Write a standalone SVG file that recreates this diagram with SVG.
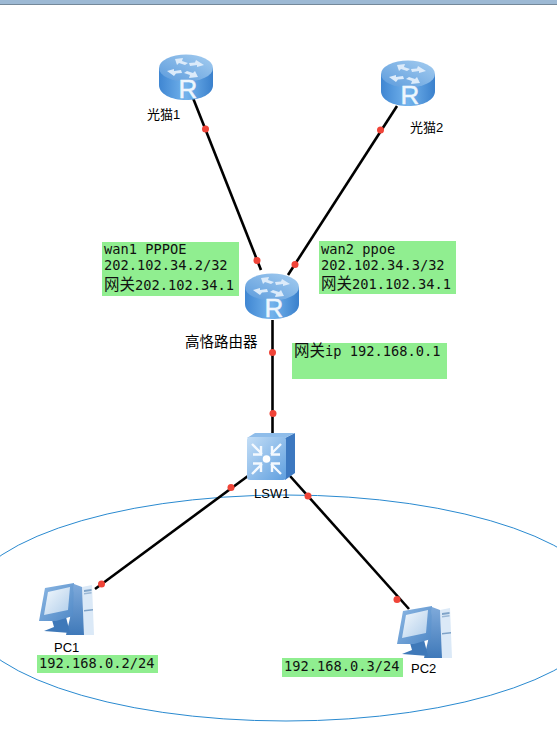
<svg xmlns="http://www.w3.org/2000/svg" width="557" height="748" viewBox="0 0 557 748">
<style>
.lnk{stroke:#000;stroke-width:2.600;fill:none}
.dot{fill:#f04438}
.box{fill:#90ee90}
.mono{font-family:"DejaVu Sans Mono","Liberation Mono","Noto Sans CJK SC",monospace;font-size:13.7px;fill:#111}
.cjk{font-family:"Noto Sans CJK SC",sans-serif;font-size:15.500px}
.lbl{font-family:"Liberation Sans","Noto Sans CJK SC",sans-serif;font-size:13px;fill:#000}
.rt{font-family:"Liberation Sans",sans-serif;font-size:26px;fill:#eef6fd;stroke:#eef6fd;stroke-width:.5;text-anchor:middle}
.ar{fill:none;stroke:#f4f9fe;stroke-width:2.400}
</style>
<defs>
<linearGradient id="rb" x1="0" x2="1" y1="0" y2="0"><stop offset="0" stop-color="#3f86d2"/><stop offset=".5" stop-color="#73b3ec"/><stop offset="1" stop-color="#3a80cc"/></linearGradient>
<linearGradient id="rt" x1="0" x2="1" y1="1" y2="0"><stop offset="0" stop-color="#5c9bdc"/><stop offset="1" stop-color="#a5cdf0"/></linearGradient>
<linearGradient id="sw" x1="0" x2="1" y1="0" y2="1"><stop offset="0" stop-color="#c4def6"/><stop offset="1" stop-color="#5f9fdf"/></linearGradient>
<linearGradient id="pcm" x1="0" x2="1" y1="0" y2="1"><stop offset="0" stop-color="#8db8e4"/><stop offset="1" stop-color="#4f88c6"/></linearGradient>
<linearGradient id="pcs" x1="0" x2="1" y1="0" y2="1"><stop offset="0" stop-color="#f4f9fd"/><stop offset="1" stop-color="#b0cdea"/></linearGradient>
<linearGradient id="pcb" x1="0" x2="0" y1="0" y2="1"><stop offset="0" stop-color="#7faadb"/><stop offset="1" stop-color="#3f79b9"/></linearGradient>
<g id="router">
<path d="M0,14V31C0,40 12,46 27,46S54,40 54,31V14Z" fill="url(#rb)"/>
<ellipse cx="27" cy="14" rx="27" ry="13.5" fill="url(#rt)"/>
<g fill="#dcebfa">
<polygon points="16,5 24,4 23,7 29,9 26,11 20,9 18,11"/>
<polygon points="37,6 45,11 38,13 38,11 31,12 30,9 36,8.500"/>
<polygon points="39,23 30,24 31,21 25,19 28,17 34,19 36,17"/>
<polygon points="15,22 8,17 15,15 15,17 22,16 23,19 17,19.500"/>
</g>
<text class="rt" x="29" y="44">R</text>
</g>
<g id="pc">
<polygon points="44,7 54,5 56,55 46,55" fill="#dbe9f7"/>
<polygon points="36,4 44,7 46,55 28,55 32,38" fill="url(#pcb)"/>
<polygon points="46,10 53.500,9 53.500,11 46,12" fill="#7fa3c8"/>
<polygon points="46,13 53.500,12 53.500,13.500 46,14.500" fill="#9ab8d6"/>
<polygon points="46,30 55,29 55,30.500 46,31.500" fill="#7fa3c8"/>
<polygon points="14,40 28,37 32,53 6,51 16,47" fill="#3f79b9"/>
<polygon points="7,8 36,3 35,36 18,41 1,41" fill="url(#pcm)"/>
<polygon points="10,12 32,7 30,30 6,35" fill="url(#pcs)"/>
</g>
</defs>
<rect width="557" height="748" fill="#fff"/>
<rect width="557" height="4" fill="#9db9d4"/>
<rect y="4" width="557" height="1" fill="#74889a"/>
<ellipse cx="286" cy="608" rx="322" ry="113" fill="none" stroke="#2a8ad0" stroke-width="1"/>
<g id="connectors">
<line class="lnk" x1="193" y1="98" x2="261" y2="270"/>
<line class="lnk" x1="397" y1="106" x2="288" y2="275"/>
<line class="lnk" x1="272.500" y1="320" x2="272.500" y2="433"/>
<line class="lnk" x1="252" y1="473" x2="95" y2="589"/>
<line class="lnk" x1="290" y1="476" x2="409" y2="609"/>
<circle class="dot" cx="205.500" cy="129" r="3.500"/>
<circle class="dot" cx="257" cy="260.500" r="3.500"/>
<circle class="dot" cx="380.500" cy="130" r="3.500"/>
<circle class="dot" cx="295" cy="264.500" r="3.500"/>
<circle class="dot" cx="272.500" cy="352.500" r="3.500"/>
<circle class="dot" cx="273" cy="413.500" r="3.500"/>
<circle class="dot" cx="231" cy="487.500" r="3.500"/>
<circle class="dot" cx="101.500" cy="584" r="3.500"/>
<circle class="dot" cx="308" cy="496" r="3.500"/>
<circle class="dot" cx="397" cy="599.500" r="3.500"/>
</g>
<g id="r1"><use href="#router" x="159" y="54"/><text class="lbl" x="147" y="119">光猫1</text></g>
<g id="r2"><use href="#router" x="381" y="60"/><text class="lbl" x="410" y="132">光猫2</text></g>
<g id="r3">
<rect class="box" x="102" y="242" width="137" height="54"/>
<text class="mono" x="104" y="254">wan1 PPPOE</text>
<text class="mono" x="104" y="270">202.102.34.2/32</text>
<text class="mono" x="104" y="290"><tspan class="cjk">网关</tspan>202.102.34.1</text>
<rect class="box" x="319" y="241" width="137" height="53"/>
<text class="mono" x="321" y="254">wan2 ppoe</text>
<text class="mono" x="321" y="270">202.102.34.3/32</text>
<text class="mono" x="321" y="289"><tspan class="cjk">网关</tspan>201.102.34.1</text>
<rect class="box" x="292" y="343" width="155" height="36"/>
<text class="mono" x="294" y="356"><tspan class="cjk">网关</tspan>ip 192.168.0.1</text>
<use href="#router" x="245" y="273"/>
<text class="lbl" x="185" y="347" style="font-size:14.500px">高恪路由器</text>
</g>
<g id="lsw1">
<polygon points="285,438 295,433 295,473 285,480" fill="#3c78c0"/>
<polygon points="247,438 255,433 295,433 285,438" fill="#8fbdea"/>
<rect x="247" y="437" width="39" height="43" rx="3" fill="url(#sw)"/>
<circle cx="266.500" cy="459" r="3.800" fill="#fff"/>
<path class="ar" d="M252,444L262,454M261,446V454.500H253"/>
<path class="ar" d="M281,444L271,454M272,446V454.500H280"/>
<path class="ar" d="M252,474L262,464M261,472V463.500H253"/>
<path class="ar" d="M281,474L271,464M272,472V463.500H280"/>
<text class="lbl" x="254" y="498">LSW1</text>
</g>
<g id="pc1"><use href="#pc" x="38" y="580"/>
<text class="lbl" x="54" y="652">PC1</text>
<rect class="box" x="37" y="655" width="121" height="18"/>
<text class="mono" x="39" y="668">192.168.0.2/24</text></g>
<g id="pc2"><use href="#pc" x="396" y="603"/>
<text class="lbl" x="411" y="673">PC2</text>
<rect class="box" x="282" y="658" width="121" height="19"/>
<text class="mono" x="284" y="671">192.168.0.3/24</text></g>
</svg>
